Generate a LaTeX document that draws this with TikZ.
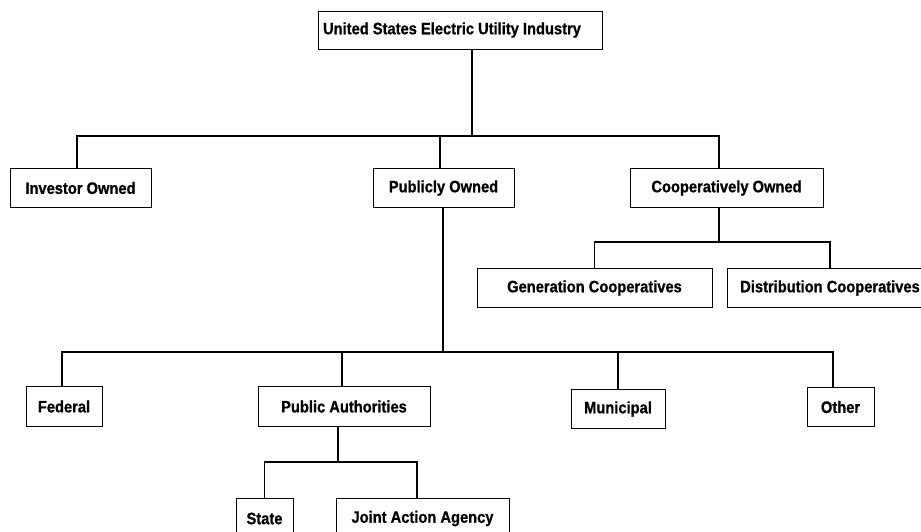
\documentclass[tikz,border=0pt]{standalone}
\usepackage{fontspec}
\setmainfont{Liberation Sans}[FakeStretch=0.89, BoldFeatures={FakeBold=0.8}]
\usepackage{tikz}
\tikzset{
  orgbox/.style={draw, line width=0.9pt, rectangle, inner sep=2pt,
    font=\bfseries\fontsize{16.5}{18}\selectfont},
  link/.style={line width=1.3pt}
}

\begin{document}
\begin{tikzpicture}[x=1pt,y=-1pt]
        \clip (0,0) rectangle (921,531);
        \fill[white] (0,0) rectangle (921,531);

        \node[orgbox, minimum width=284, minimum height=38] (usei) at (460,30) {United States Electric Utility Industry\hspace*{16pt}};

        \node[orgbox, minimum width=141, minimum height=39] (inv) at (80.5,188) {Investor Owned};
        \node[orgbox, minimum width=141, minimum height=39] (pub) at (443.5,188) {Publicly Owned};
        \node[orgbox, minimum width=193, minimum height=39] (coop) at (726.5,188) {Cooperatively Owned};

        \node[orgbox, minimum width=235, minimum height=39] (gen) at (594.5,288) {Generation Cooperatives};
        \node[orgbox, minimum width=206, minimum height=39] (dist) at (830,288) {Distribution Cooperatives};

        \node[orgbox, minimum width=76, minimum height=40] (fed) at (64,406.5) {Federal};
        \node[orgbox, minimum width=172, minimum height=40] (pa) at (344,406.5) {Public Authorities};
        \node[orgbox, minimum width=94, minimum height=39] (mun) at (618,409) {Municipal};
        \node[orgbox, minimum width=67, minimum height=39] (other) at (840.5,407) {Other};

        \node[orgbox, minimum width=57, minimum height=40] (state) at (264.5,518.5) {State};
        \node[orgbox, minimum width=173, minimum height=40] (jaa) at (422.5,518.5) {Joint Action Agency};

        % ownership tier
        \draw[link] ([xshift=12pt]usei.south) -- ++(0,87);
        \draw[link] ([xshift=-3.5pt]inv.north) -- ++(0,-32) -| ([xshift=-7.5pt]coop.north);
        \draw[link] ([xshift=-3.5pt]pub.north) -- ++(0,-32);

        % cooperatives
        \draw[link] ([xshift=-7.5pt]coop.south) -- ++(0,35);
        \draw[link] (gen.north) -- ++(0,-26) -| (dist.north);

        % public ownership
        \draw[link] ([xshift=-0.5pt]pub.south) -- ++(0,145);
        \draw[link] ([xshift=-2pt]fed.north) -- ++(0,-34) -| ([xshift=-7.5pt]other.north);
        \draw[link] ([xshift=-2pt]pa.north) -- ++(0,-34);
        \draw[link] (mun.north) -- ++(0,-37);

        % public authorities
        \draw[link] ([xshift=-6pt]pa.south) -- ++(0,36);
        \draw[link] (state.north) -- ++(0,-36) -| ([xshift=-5.5pt]jaa.north);
    \end{tikzpicture}
\end{document}
